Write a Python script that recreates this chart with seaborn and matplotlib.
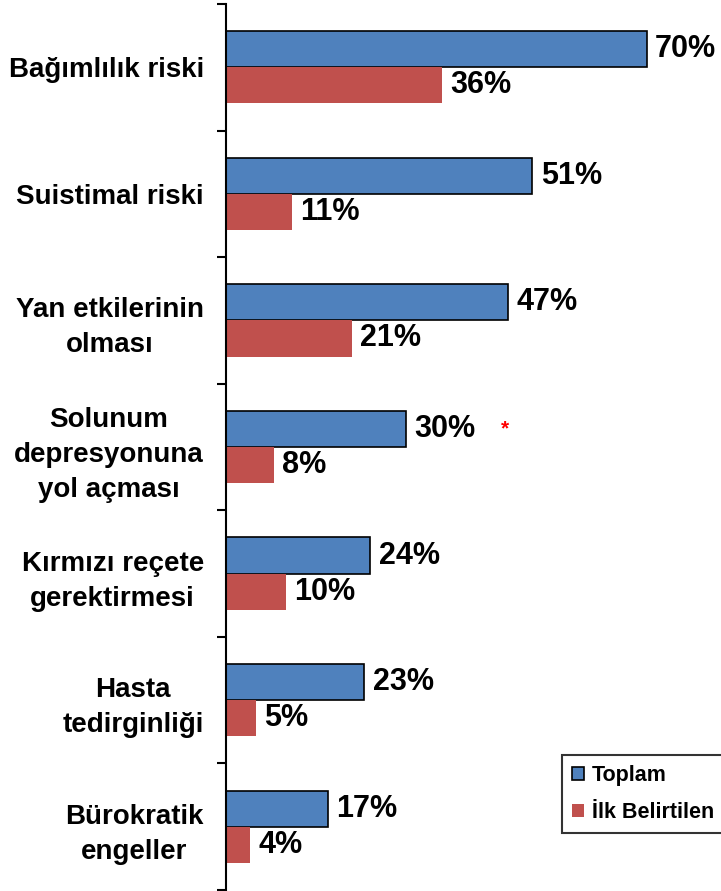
import matplotlib
matplotlib.use("Agg")
import matplotlib.pyplot as plt
import pandas as pd
import seaborn as sns
from matplotlib.patches import Patch

categories = [
    "Bağımlılık riski",
    "Suistimal riski",
    "Yan etkilerinin\nolması",
    "Solunum\ndepresyonuna\nyol açması",
    "Kırmızı reçete\ngerektirmesi",
    "Hasta\ntedirginliği",
    "Bürokratik\nengeller",
]
toplam = [70, 51, 47, 30, 24, 23, 17]
ilk_belirtilen = [36, 11, 21, 8, 10, 5, 4]
series_names = ["Toplam", "İlk Belirtilen"]
colors = ["#4F81BD", "#C0504D"]

df = pd.DataFrame(
    {
        "category": categories * 2,
        "value": toplam + ilk_belirtilen,
        "series": [series_names[0]] * len(categories) + [series_names[1]] * len(categories),
    }
)

sns.set_theme(style="white")
plt.rcParams["font.family"] = ["Liberation Sans", "DejaVu Sans"]
plt.rcParams["font.weight"] = "bold"
plt.rcParams["text.color"] = "black"
plt.rcParams["ytick.color"] = "black"
plt.rcParams["ytick.labelcolor"] = "black"

fig = plt.figure(figsize=(7.21, 8.91), dpi=100)
ax = fig.add_axes([226 / 721, 1 / 891, 1 - 226 / 721, 886 / 891])

sns.barplot(
    data=df,
    y="category",
    x="value",
    hue="series",
    order=categories,
    hue_order=series_names,
    palette=colors,
    width=0.57,
    orient="h",
    saturation=1,
    legend=False,
    ax=ax,
)

# blue bars have a black outline, red ones don't
for bar in ax.containers[0]:
    bar.set_edgecolor("black")
    bar.set_linewidth(1.2)
for bar in ax.containers[1]:
    bar.set_edgecolor("none")

for cont in ax.containers:
    ax.bar_label(cont, fmt="{:.0f}%", padding=6, fontsize=22, fontweight="bold", color="black")

ax.set_xlim(0, 82.4)
ax.set_ylim(6.5, -0.5)
ax.set_xlabel("")
ax.set_ylabel("")
ax.set_xticks([])

for s in ["top", "right", "bottom"]:
    ax.spines[s].set_visible(False)
ax.spines["left"].set_color("black")
ax.spines["left"].set_linewidth(1.5)

ax.set_yticks(range(len(categories)))
ax.set_yticklabels(categories, fontsize=20, fontweight="bold", multialignment="center",
                   linespacing=1.45, color="black")
ax.set_yticks([i - 0.5 for i in range(len(categories) + 1)], minor=True)
ax.tick_params(axis="y", which="major", length=0, pad=16)
ax.tick_params(axis="y", which="minor", length=6.5, width=1.5, color="black", left=True)

# red asterisk next to the respiratory depression bar
ax.text(46.4, 3 - 0.14, "*", color="red", fontsize=15, ha="center", va="center")

handles = [
    Patch(facecolor=colors[0], edgecolor="black", linewidth=1.2, label=series_names[0]),
    Patch(facecolor=colors[1], edgecolor="none", label=series_names[1]),
]
leg = fig.legend(
    handles=handles,
    loc="upper left",
    bbox_to_anchor=(562 / 721, 1 - 755 / 891),
    frameon=True,
    fancybox=False,
    prop={"size": 15.5, "weight": "bold"},
    handlelength=0.55,
    handleheight=0.55,
    handletextpad=0.4,
    borderpad=0.45,
    labelspacing=0.75,
    borderaxespad=0,
)
leg.get_frame().set_edgecolor("black")
leg.get_frame().set_linewidth(1.5)
for t in leg.get_texts():
    t.set_color("black")

fig.savefig("out.png", dpi=100)
